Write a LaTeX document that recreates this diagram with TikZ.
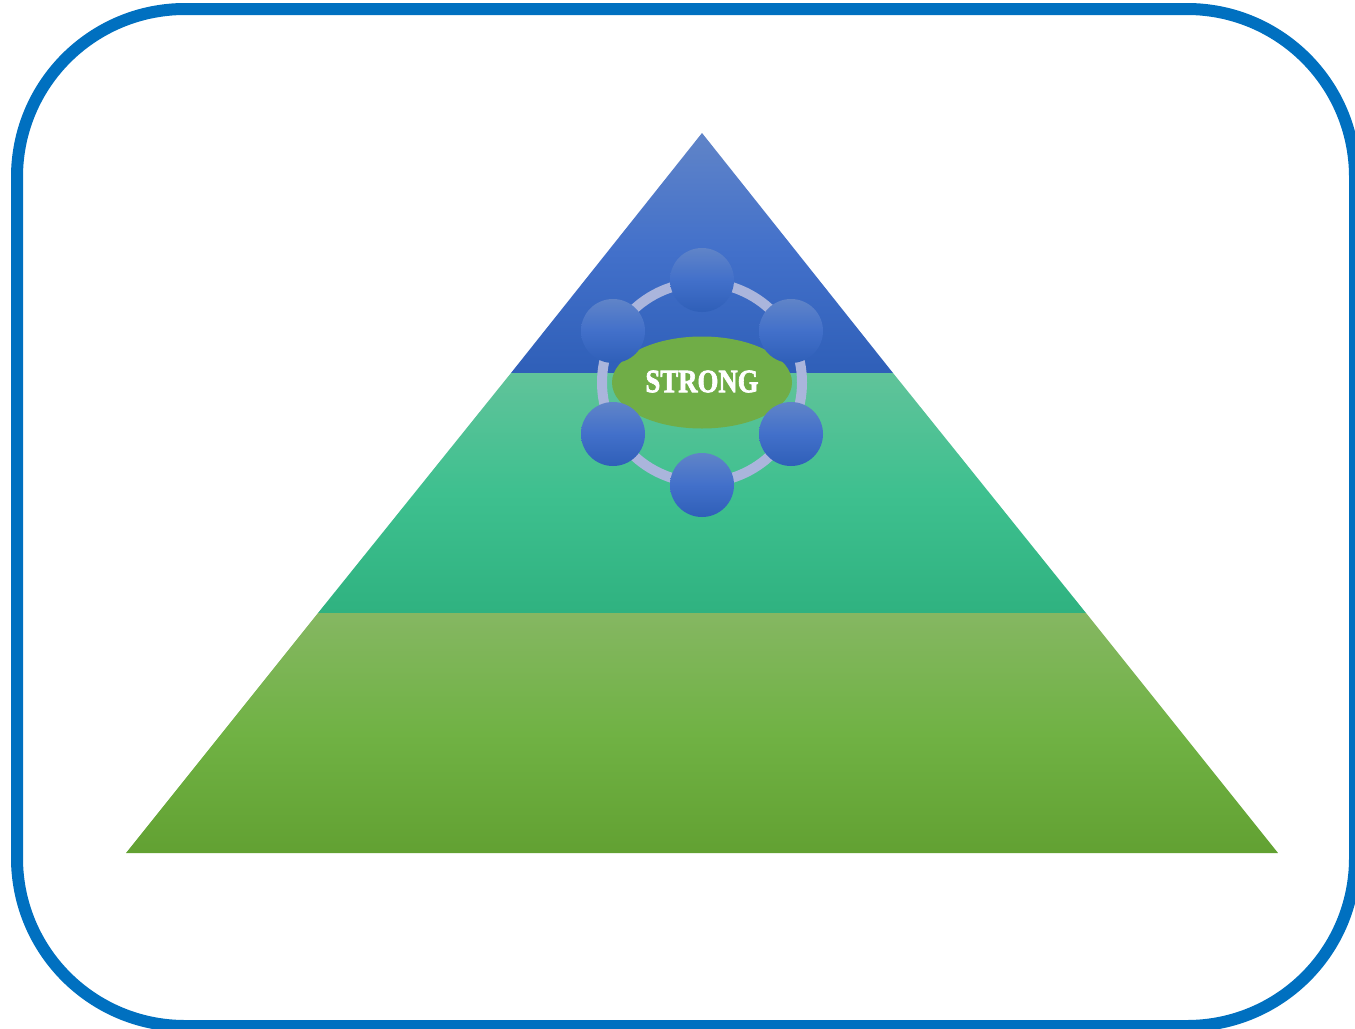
\documentclass[tikz,border=0pt]{standalone}
\usepackage{fontspec}
\setmainfont{Liberation Serif}
\newfontfamily\corefont[BoldFeatures={FakeBold=2.2}]{Liberation Serif}
\usetikzlibrary{shapes.geometric}
\definecolor{frameblue}{HTML}{0070C0}
\definecolor{ringblue}{HTML}{AAB5DC}
\definecolor{leafgreen}{HTML}{70AD47}
\tikzset{
  bluefade/.style={top color={rgb,255:red,96;green,132;blue,200},bottom color={rgb,255:red,47;green,95;blue,184},middle color={rgb,255:red,66;green,112;blue,202}},
  tealfade/.style={top color={rgb,255:red,96;green,195;blue,154},bottom color={rgb,255:red,47;green,178;blue,128},middle color={rgb,255:red,62;green,192;blue,143}},
  greenfade/.style={top color={rgb,255:red,133;green,183;blue,98},bottom color={rgb,255:red,98;green,161;blue,50},middle color={rgb,255:red,112;green,178;blue,68}},
  member/.style={circle,bluefade,minimum size=48pt,inner sep=0pt,outer sep=0pt},
  ringline/.style={circle,draw=ringblue,line width=7.5pt,minimum size=150pt,inner sep=0pt},
  core/.style={ellipse,fill=leafgreen,minimum width=135pt,minimum height=69pt,inner sep=0pt},
  corelabel/.style={text=white,font=\corefont\bfseries\fontsize{24.5}{24.5}\selectfont,xscale=0.82}
}
\begin{document}
\begin{tikzpicture}[x=0.75pt,y=-0.75pt]
  \useasboundingbox (0,0) rectangle (1355,1028);
  \clip (0,0) rectangle (1355,1028);

  \draw [frameblue,line width=9pt,rounded corners=126pt] (17,9) rectangle (1355,1026);

  \shade [bluefade] (702,133) -- (893,373) -- (511,373) -- cycle;
  \shade [tealfade] (511,373) -- (893,373) -- (1086,613) -- (318,613) -- cycle;
  \shade [greenfade] (318,613) -- (1086,613) -- (1278,853) -- (126,853) -- cycle;

  \node [ringline] (ring) at (702,382.5) {};
  \node [core] (strong) at (702,382.5) {};

  \node [member] (m1) at (702,280) {};
  \node [member] (m2) at (791,331) {};
  \node [member] (m3) at (791,434) {};
  \node [member] (m4) at (702,485) {};
  \node [member] (m5) at (613,434) {};
  \node [member] (m6) at (613,331) {};

  \node [corelabel] (word) at (702,381.5) {STRONG};
\end{tikzpicture}
\end{document}
